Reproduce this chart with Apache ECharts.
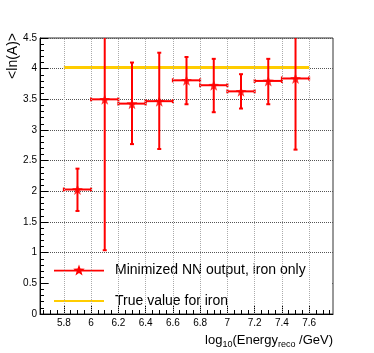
<!DOCTYPE html>
<html>
<head>
  <meta charset="utf-8">
  <title>ln(A) vs energy</title>
  <script src="https://cdn.jsdelivr.net/npm/echarts@6/dist/echarts.min.js"></script>
  <style>
    html, body { margin: 0; padding: 0; background: #fff; }
  </style>
</head>
<body>
<div id="main" style="width: 374px;height: 353px"></div>
<script type="text/javascript">
  // bin centres in log10(E/GeV), half width of each bin
  var energyBins = [5.9, 6.1, 6.3, 6.5, 6.7, 6.9, 7.1, 7.3, 7.5];
  var binHalfWidth = 0.1;
  // mean ln(A) and error bar ends
  var meanLnA = [2.03, 3.50, 3.43, 3.47, 3.81, 3.73, 3.63, 3.80, 3.84];
  var errLow  = [1.68, 1.04, 2.77, 2.69, 3.42, 3.29, 3.35, 3.42, 2.68];
  var errHigh = [2.37, 4.96, 4.10, 4.26, 4.19, 4.16, 3.91, 4.16, 5.00];
  // true value for iron
  var trueIron = 4.02;
  var trueRange = [5.8, 7.6];
  // tick labels
  var xTicks = [5.8, 6, 6.2, 6.4, 6.6, 6.8, 7, 7.2, 7.4, 7.6];
  var xMinorTicks = [];
  for (var t = 5.65; t < 7.77; t += 0.05) xMinorTicks.push(Math.round(t * 100) / 100);

  var RED = '#ff0000';
  var YELLOW = '#ffcc00';
  var FONT = 'Liberation Sans';

  // star outline, centre (cx, cy), outer radius r
  function starPath(cx, cy, r) {
    var s = '';
    for (var i = 0; i < 10; i++) {
      var rr = i % 2 ? r * 0.4 : r;
      var a = -Math.PI / 2 + i * Math.PI / 5;
      s += (i ? 'L' : 'M') + (cx + rr * Math.cos(a)).toFixed(2) + ',' + (cy + rr * Math.sin(a)).toFixed(2);
    }
    return s + 'Z';
  }
  var STAR = 'path://' + starPath(0, 0, 10);
  // legend icon: line with star, bbox 50 x 11
  var R = 11 / 1.809;
  var legendStarIcon = 'path://M0,' + (R - 0.8).toFixed(2) + 'H50V' + (R + 0.8).toFixed(2) + 'H0Z' + starPath(25, R, R);

  var points = [];
  for (var i = 0; i < energyBins.length; i++) {
    points.push([energyBins[i], meanLnA[i], errLow[i], errHigh[i]]);
  }

  var myChart = echarts.init(document.getElementById('main'));

  var option = {
    animation: false,
    grid: {
      left: 40, top: 38, right: 41, bottom: 39,
      show: true, borderColor: '#333', borderWidth: 1
    },
    xAxis: [{
      type: 'value', min: 5.625, max: 7.775,
      axisLine: { lineStyle: { color: '#000' } },
      axisTick: { inside: true, length: 8, customValues: xTicks, lineStyle: { color: '#000' } },
      axisLabel: { customValues: xTicks, margin: 4, fontSize: 10, fontFamily: FONT, color: '#000' },
      splitLine: { show: false }
    }, {
      type: 'value', min: 5.625, max: 7.775, position: 'bottom',
      axisLine: { show: false },
      axisTick: { inside: true, length: 4, customValues: xMinorTicks, lineStyle: { color: '#000' } },
      axisLabel: { show: false },
      splitLine: { show: false }
    }],
    yAxis: {
      type: 'value', min: 0, max: 4.5, interval: 0.5,
      axisLine: { show: true, lineStyle: { color: '#000' } },
      axisTick: { show: true, inside: true, length: 8, lineStyle: { color: '#000' } },
      minorTick: { show: true, splitNumber: 5, length: 4, lineStyle: { color: '#000' } },
      axisLabel: { margin: 3, fontSize: 10, fontFamily: FONT, color: '#000' },
      splitLine: { show: true, lineStyle: { color: '#555', width: 1, type: 'dotted' } }
    },
    legend: [{
      data: [{ name: 'Minimized NN output, iron only', icon: legendStarIcon }],
      left: 49, top: 258, itemWidth: 50, itemHeight: 11, itemGap: 10,
      textStyle: { fontSize: 14, fontFamily: FONT, color: '#000', padding: [0, 0, 0, 6] }
    }, {
      data: [{ name: 'True value for iron', icon: 'path://M0,0H50V2H0Z' }],
      left: 49, top: 289, itemWidth: 50, itemHeight: 2, itemGap: 10,
      textStyle: { fontSize: 14, fontFamily: FONT, color: '#000', padding: [0, 0, 0, 6] }
    }],
    graphic: [{
      type: 'rect', z: 1, silent: true,
      shape: { x: 49, y: 254, width: 282, height: 51 },
      style: { fill: '#fff' }
    }, {
      type: 'text', x: 13, y: 33, rotation: Math.PI / 2,
      style: { text: '<ln(A)>', font: '14px ' + FONT, fill: '#000', align: 'right', verticalAlign: 'middle' }
    }, {
      type: 'text', x: 333, y: 340,
      style: {
        text: 'log{sub|10}(Energy{sub|reco} /GeV)',
        font: '13px ' + FONT, fill: '#000', align: 'right', verticalAlign: 'middle',
        rich: { sub: { fontSize: 9, fontFamily: FONT, verticalAlign: 'bottom', padding: [10, 0, 0, 0] } }
      }
    }],
    series: [{
      // vertical grid lines at the labelled energies
      type: 'line', xAxisIndex: 0, data: [], silent: true,
      markLine: {
        symbol: 'none', silent: true, label: { show: false },
        lineStyle: { color: '#aaa', width: 1, type: 'dotted' },
        data: xTicks.map(function (v) { return { xAxis: v }; })
      },
      z: 0
    }, {
      name: 'True value for iron',
      type: 'line',
      data: [[trueRange[0], trueIron], [trueRange[1], trueIron]],
      showSymbol: false,
      lineStyle: { color: YELLOW, width: 3 },
      itemStyle: { color: YELLOW },
      z: 3
    }, {
      name: 'Minimized NN output, iron only',
      type: 'custom',
      data: points,
      clip: true,
      itemStyle: { color: RED },
      renderItem: function (params, api) {
        var x = api.value(0), y = api.value(1), lo = api.value(2), hi = api.value(3);
        var pL = api.coord([x - binHalfWidth, y]);
        var pR = api.coord([x + binHalfWidth, y]);
        var pLo = api.coord([x, lo]);
        var pHi = api.coord([x, hi]);
        var st = { stroke: RED, lineWidth: 2 };
        var c = 2;
        return {
          type: 'group',
          children: [
            { type: 'line', shape: { x1: pL[0], y1: pL[1], x2: pR[0], y2: pR[1] }, style: st },
            { type: 'line', shape: { x1: pLo[0], y1: pLo[1], x2: pHi[0], y2: pHi[1] }, style: st },
            { type: 'line', shape: { x1: pL[0], y1: pL[1] - c, x2: pL[0], y2: pL[1] + c }, style: st },
            { type: 'line', shape: { x1: pR[0], y1: pR[1] - c, x2: pR[0], y2: pR[1] + c }, style: st },
            { type: 'line', shape: { x1: pLo[0] - c, y1: pLo[1], x2: pLo[0] + c, y2: pLo[1] }, style: st },
            { type: 'line', shape: { x1: pHi[0] - c, y1: pHi[1], x2: pHi[0] + c, y2: pHi[1] }, style: st }
          ]
        };
      },
      z: 4
    }, {
      name: 'Minimized NN output, iron only',
      type: 'scatter',
      data: points.map(function (p) { return [p[0], p[1]]; }),
      symbol: STAR,
      symbolSize: 11,
      itemStyle: { color: RED },
      z: 5
    }]
  };

  myChart.setOption(option);
</script>
</body>
</html>
